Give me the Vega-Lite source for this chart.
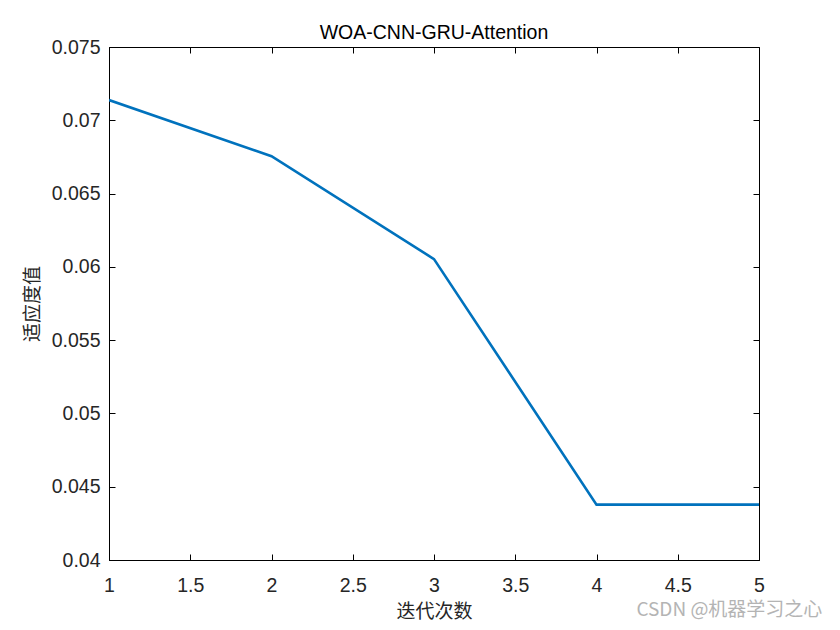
{
  "$schema": "https://vega.github.io/schema/vega-lite/v6.json",
  "width": 650,
  "height": 513,
  "autosize": {"type": "none"},
  "padding": {"left": 109, "top": 47, "right": 81, "bottom": 70},
  "background": "white",
  "title": {"text": "WOA-CNN-GRU-Attention", "font": "Liberation Sans", "fontSize": 19.5, "fontWeight": "normal", "color": "#000000", "offset": -6},
  "config": {"view": {"stroke": "#000000", "strokeWidth": 1}},
  "data": {"values": [
    {"iter": 1, "fit": 0.07138},
    {"iter": 2, "fit": 0.06755},
    {"iter": 3, "fit": 0.06053},
    {"iter": 4, "fit": 0.04378},
    {"iter": 5, "fit": 0.04378}
  ]},
  "layer": [
    {
      "mark": {"type": "line", "color": "#0072BD", "strokeWidth": 2.6, "clip": true},
      "encoding": {
        "x": {"field": "iter", "type": "quantitative", "scale": {"domain": [1, 5], "nice": false},
          "axis": {"values": [1, 1.5, 2, 2.5, 3, 3.5, 4, 4.5, 5], "format": "~g", "grid": false, "domainColor": "#000000", "tickColor": "#000000", "tickSize": -6, "labelPadding": 22, "labelFont": "Liberation Sans", "labelFontSize": 19.5, "labelColor": "#262626", "labelFlush": false,
            "title": "迭代次数", "titleFont": "Noto Sans CJK SC", "titleFontSize": 19, "titleFontWeight": "normal", "titleColor": "#262626", "titlePadding": 8}},
        "y": {"field": "fit", "type": "quantitative", "scale": {"domain": [0.04, 0.075], "nice": false, "zero": false},
          "axis": {"values": [0.04, 0.045, 0.05, 0.055, 0.06, 0.065, 0.07, 0.075], "format": ".3~f", "grid": false, "domainColor": "#000000", "tickColor": "#000000", "tickSize": -6, "labelPadding": 15, "labelFont": "Liberation Sans", "labelFontSize": 19.5, "labelColor": "#262626", "labelFlush": false,
            "title": "适应度值", "titleFont": "Noto Sans CJK SC", "titleFontSize": 19, "titleFontWeight": "normal", "titleColor": "#262626", "titlePadding": 9}}
      }
    },
    {
      "mark": {"type": "text", "align": "right", "baseline": "middle", "font": "Noto Sans CJK SC", "fontSize": 19, "color": "#b4b4b4"},
      "data": {"values": [{"label": "CSDN @机器学习之心", "lx": 5.39, "ly": 0.03662}]},
      "encoding": {
        "x": {"field": "lx", "type": "quantitative", "axis": {"orient": "top", "values": [1, 1.5, 2, 2.5, 3, 3.5, 4, 4.5, 5], "labels": false, "domain": false, "grid": false, "tickColor": "#000000", "tickSize": -6, "title": null}},
        "y": {"field": "ly", "type": "quantitative", "axis": {"orient": "right", "values": [0.04, 0.045, 0.05, 0.055, 0.06, 0.065, 0.07, 0.075], "labels": false, "domain": false, "grid": false, "tickColor": "#000000", "tickSize": -6, "title": null}},
        "text": {"field": "label"}
      }
    }
  ],
  "resolve": {"axis": {"x": "independent", "y": "independent"}}
}
